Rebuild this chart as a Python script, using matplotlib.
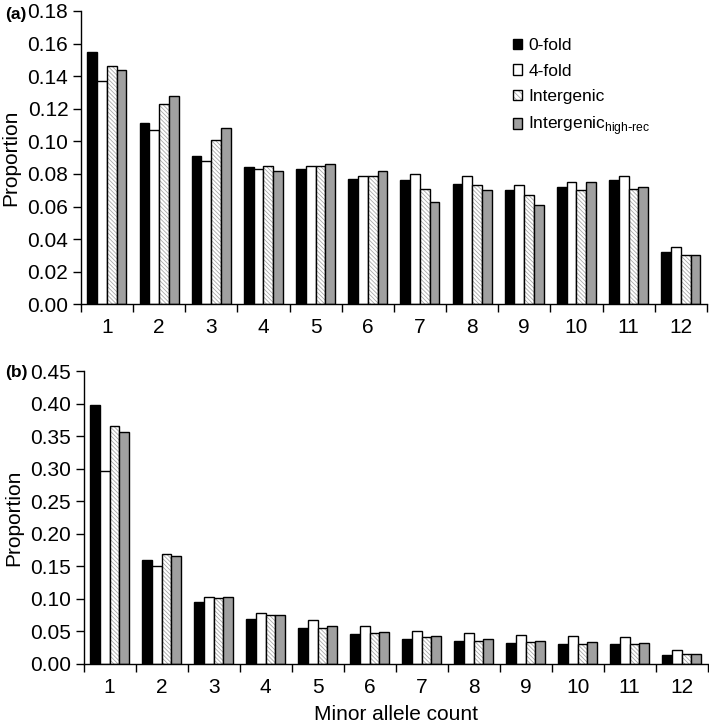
import numpy as np
import matplotlib
matplotlib.use("Agg")
from matplotlib import pyplot as plt
from matplotlib.patches import Patch
from matplotlib.legend_handler import HandlerTuple

plt.rcParams['font.family'] = ['Liberation Sans', 'DejaVu Sans']
plt.rcParams['hatch.linewidth'] = 0.6

##### DATA #####
counts = list(range(1, 13))
series = ['0-fold', '4-fold', 'Intergenic', 'Intergenic$_{\\mathregular{high\\text{-}rec}}$']

a_zero = [0.155, 0.111, 0.091, 0.084, 0.083, 0.077, 0.076, 0.074, 0.070, 0.072, 0.076, 0.032]
a_four = [0.137, 0.107, 0.088, 0.083, 0.085, 0.079, 0.080, 0.079, 0.073, 0.075, 0.079, 0.035]
a_inter = [0.146, 0.123, 0.101, 0.085, 0.085, 0.079, 0.071, 0.073, 0.067, 0.070, 0.071, 0.030]
a_hirec = [0.144, 0.128, 0.108, 0.082, 0.086, 0.082, 0.063, 0.070, 0.061, 0.075, 0.072, 0.030]

b_zero = [0.398, 0.160, 0.096, 0.069, 0.055, 0.046, 0.039, 0.036, 0.032, 0.031, 0.030, 0.014]
b_four = [0.297, 0.151, 0.103, 0.079, 0.067, 0.058, 0.051, 0.047, 0.044, 0.043, 0.042, 0.021]
b_inter = [0.366, 0.169, 0.102, 0.076, 0.056, 0.048, 0.042, 0.036, 0.033, 0.031, 0.030, 0.015]
b_hirec = [0.356, 0.166, 0.103, 0.075, 0.059, 0.049, 0.043, 0.038, 0.035, 0.033, 0.032, 0.016]
##### ENDDATA #####

gray = '#a0a0a0'
hatchgray = '#a8a8a8'
hatch = '\\' * 8
w = 0.1875
offs = [-1.5 * w, -0.5 * w, 0.5 * w, 1.5 * w]


def panel(ax, vals, ymax, step, label, ylab_y):
    x = np.array(counts)
    ax.bar(x + offs[0], vals[0], w, color='black', edgecolor='black', lw=1)
    ax.bar(x + offs[1], vals[1], w, color='white', edgecolor='black', lw=1)
    ax.bar(x + offs[2], vals[2], w, color='white', edgecolor=hatchgray, lw=0, hatch=hatch)
    ax.bar(x + offs[2], vals[2], w, fill=False, edgecolor='black', lw=1)
    ax.bar(x + offs[3], vals[3], w, color=gray, edgecolor='black', lw=1)
    ax.set_xlim(0.5, 12.5)
    ax.set_ylim(0, ymax)
    ticks = np.arange(0, ymax + step / 2, step)
    ax.set_yticks(ticks)
    ax.set_yticklabels(['%.2f' % t for t in ticks])
    ax.set_xticks(np.arange(0.5, 13, 1))
    ax.set_xticklabels([])
    ax.set_xticks(counts, minor=True)
    ax.set_xticklabels([str(c) for c in counts], minor=True)
    ax.tick_params(axis='x', which='major', length=6, width=1, direction='out')
    ax.tick_params(axis='x', which='minor', length=0, labelsize=15, pad=10)
    ax.tick_params(axis='y', length=6, width=1, labelsize=15, pad=3)
    ax.spines['top'].set_visible(False)
    ax.spines['right'].set_visible(False)
    ax.spines['left'].set_linewidth(1)
    ax.spines['bottom'].set_linewidth(1)
    ax.set_ylabel('Proportion', fontsize=15, labelpad=5)
    fig.text(5 / 709, ylab_y, label, fontsize=12.5, fontweight='bold',
             va='center', ha='left')


fig = plt.figure(figsize=(7.09, 7.28), dpi=100)
ax1 = fig.add_axes([0.114, 0.582, 0.883, 0.403])
ax2 = fig.add_axes([0.118, 0.088, 0.880, 0.402])

panel(ax1, [a_zero, a_four, a_inter, a_hirec], 0.18, 0.02, '(a)', 1 - 14 / 728)
panel(ax2, [b_zero, b_four, b_inter, b_hirec], 0.45, 0.05, '(b)', 1 - 373 / 728)
ax2.set_xlabel('Minor allele count', fontsize=15, labelpad=6)

h0 = Patch(facecolor='black', edgecolor='black', lw=1)
h1 = Patch(facecolor='white', edgecolor='black', lw=1)
h2 = (Patch(facecolor='white', edgecolor=hatchgray, lw=0, hatch='\\' * 6),
      Patch(fill=False, edgecolor='black', lw=1))
h3 = Patch(facecolor=gray, edgecolor='black', lw=1)
ax1.legend([h0, h1, h2, h3], series, loc='upper left', bbox_to_anchor=(0.665, 0.96),
           frameon=False, fontsize=12.5, handlelength=0.55, handleheight=0.55,
           handletextpad=0.35, labelspacing=0.6,
           handler_map={tuple: HandlerTuple(ndivide=1, pad=0)})

fig.savefig('out.png', dpi=100)
